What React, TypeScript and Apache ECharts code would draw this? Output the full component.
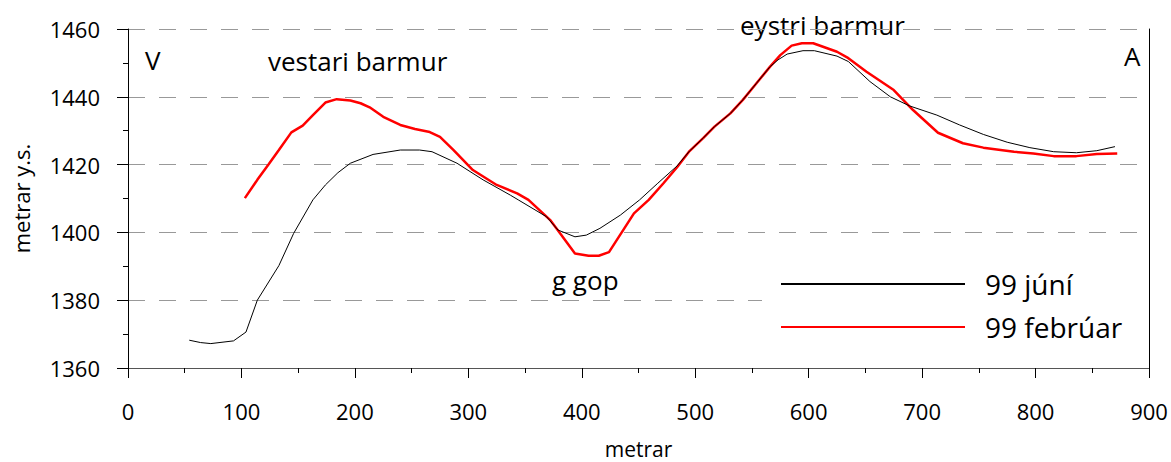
import React, { useEffect, useRef } from "react";
import * as echarts from "echarts";

// 99 júní (thin black line)
const juniMetrar = [54, 64, 73, 93, 104, 114, 133, 146, 163, 174, 185, 196, 216, 240, 257, 268, 290, 313, 337, 344, 369, 379, 394, 404, 416, 434, 451, 467, 484, 495, 507, 517, 531, 542, 554, 566, 573, 581, 595, 605, 625, 635, 654, 672, 689, 713, 733, 754, 775, 795, 816, 836, 854, 870];
const juniHaed = [1368.2, 1367.5, 1367.2, 1368.0, 1370.6, 1380.0, 1390.2, 1399.7, 1409.6, 1414.0, 1417.6, 1420.4, 1423.0, 1424.3, 1424.3, 1423.8, 1420.4, 1415.5, 1411.0, 1409.6, 1404.6, 1400.7, 1398.7, 1399.2, 1401.2, 1405.1, 1409.6, 1414.5, 1419.6, 1424.0, 1427.8, 1431.2, 1435.1, 1439.1, 1444.0, 1448.9, 1450.9, 1452.6, 1453.6, 1453.6, 1452.0, 1450.4, 1444.5, 1440.0, 1437.3, 1434.6, 1431.7, 1428.9, 1426.6, 1425.0, 1423.8, 1423.5, 1424.1, 1425.3];

// 99 febrúar (red line)
const februarMetrar = [103, 114, 124, 133, 144, 154, 163, 174, 184, 196, 205, 213, 225, 240, 253, 266, 275, 287, 304, 325, 343, 353, 372, 381, 394, 406, 415, 424, 446, 459, 472, 484, 495, 507, 517, 531, 542, 554, 566, 575, 585, 594, 604, 625, 635, 651, 675, 692, 714, 736, 754, 781, 798, 816, 836, 854, 872];
const februarHaed = [1410.1, 1415.5, 1420.1, 1424.3, 1429.5, 1431.5, 1434.6, 1438.3, 1439.3, 1438.9, 1438.1, 1436.9, 1434.1, 1431.7, 1430.5, 1429.6, 1428.2, 1424.3, 1418.4, 1414.0, 1411.5, 1409.6, 1403.7, 1399.7, 1393.8, 1393.1, 1393.1, 1394.2, 1405.6, 1409.6, 1414.5, 1419.2, 1424.0, 1427.8, 1431.2, 1435.1, 1439.1, 1444.0, 1448.9, 1452.3, 1455.1, 1455.8, 1455.8, 1453.3, 1451.4, 1447.4, 1442.0, 1436.1, 1429.4, 1426.3, 1425.0, 1423.8, 1423.3, 1422.5, 1422.5, 1423.1, 1423.3];

const seriesNames = ["99 júní", "99 febrúar"];
const xTickMin = 0;
const xTickMax = 900;
const yTickMin = 1360;
const yTickMax = 1460;

const FONT = "'Open Sans', 'Noto Sans', sans-serif";

export default function App() {
  const ref = useRef<HTMLDivElement>(null);

  useEffect(() => {
    if (!ref.current) return;
    const chart = echarts.init(ref.current, undefined, { renderer: "svg", width: 1171, height: 462 });
    const juni = juniMetrar.map((m, i) => [m, juniHaed[i]]);
    const februar = februarMetrar.map((m, i) => [m, februarHaed[i]]);

    chart.setOption({
      animation: false,
      backgroundColor: "#fff",
      textStyle: { fontFamily: FONT },
      grid: { left: 128, right: 22, top: 29, bottom: 94, containLabel: false, outerBoundsMode: "none" },
      legend: {
        orient: "vertical",
        left: 762,
        top: 255,
        itemWidth: 184,
        itemHeight: 20,
        itemGap: 15,
        padding: [15, 18, 26, 18],
        backgroundColor: "#fff",
        itemStyle: { opacity: 0 },
        textStyle: { fontSize: 28, fontFamily: FONT, color: "#000", padding: [0, 0, 0, 15] },
        data: seriesNames,
      },
      xAxis: {
        type: "value",
        min: xTickMin,
        max: xTickMax,
        interval: 100,
        name: "metrar",
        nameLocation: "middle",
        nameGap: 70,
        nameTextStyle: { fontSize: 21, color: "#000", fontFamily: FONT },
        axisLine: { show: true, onZero: false, lineStyle: { color: "#555", width: 1 } },
        axisTick: { show: true, length: 10, lineStyle: { color: "#000" } },
        minorTick: { show: true, splitNumber: 2, length: 5, lineStyle: { color: "#000" } },
        splitLine: { show: false },
        axisLabel: { fontSize: 22, color: "#000", margin: 32, fontFamily: FONT },
      },
      yAxis: [
        {
          type: "value",
          min: yTickMin,
          max: yTickMax,
          interval: 20,
          name: "metrar y.s.",
          nameLocation: "middle",
          nameGap: 96,
          nameTextStyle: { fontSize: 22, color: "#000", fontFamily: FONT },
          axisLine: { show: true, lineStyle: { color: "#000", width: 1 } },
          axisTick: { show: true, length: 11, lineStyle: { color: "#000" } },
          minorTick: { show: true, splitNumber: 2, length: 5, lineStyle: { color: "#000" } },
          splitLine: { show: true, lineStyle: { color: "#999", width: 1, type: [17, 14] } },
          axisLabel: {
            fontSize: 22,
            color: "#000",
            margin: 28,
            fontFamily: FONT,
            formatter: (v: number) => String(v),
          },
        },
        {
          type: "value",
          position: "right",
          min: yTickMin,
          max: yTickMax,
          interval: 20,
          axisLine: { show: true, lineStyle: { color: "#000", width: 1 } },
          axisTick: { show: false },
          axisLabel: { show: false },
          splitLine: { show: false },
        },
      ],
      graphic: [
        { type: "text", left: 145, top: 47, style: { text: "V", font: `26px ${FONT}`, fill: "#000" } },
        { type: "text", left: 268, top: 48, style: { text: "vestari barmur", font: `26px ${FONT}`, fill: "#000" } },
        { type: "text", left: 740, top: 12, style: { text: "eystri barmur", font: `26px ${FONT}`, fill: "#000" } },
        { type: "text", left: 552, top: 267, style: { text: "g gop", font: `26px ${FONT}`, fill: "#000" } },
        { type: "text", left: 1124, top: 43, style: { text: "A", font: `26px ${FONT}`, fill: "#000" } },
      ],
      series: [
        {
          name: seriesNames[0],
          type: "line",
          data: juni,
          symbol: "none",
          lineStyle: { color: "#000", width: 1 },
          itemStyle: { color: "#000" },
          z: 3,
        },
        {
          name: seriesNames[1],
          type: "line",
          data: februar,
          symbol: "none",
          lineStyle: { color: "#ff0000", width: 2.5 },
          itemStyle: { color: "#ff0000" },
          z: 2,
        },
      ],
    });

    return () => chart.dispose();
  }, []);

  return (
    <div
      ref={ref}
      style={{ position: "fixed", left: 0, top: 0, width: 1171, height: 462 }}
    />
  );
}
